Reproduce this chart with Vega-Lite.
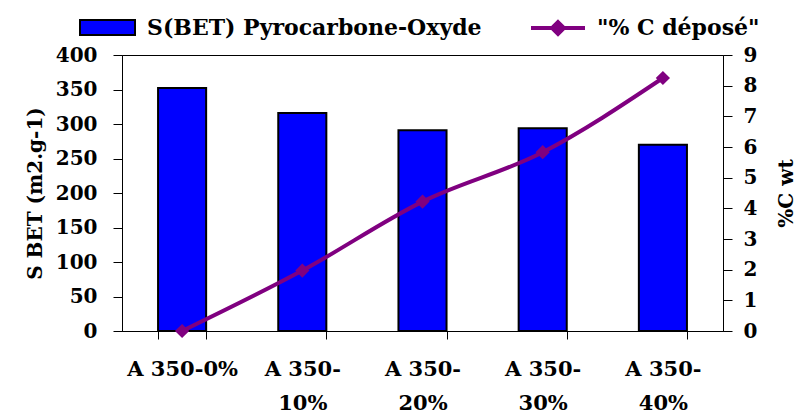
{
  "$schema": "https://vega.github.io/schema/vega-lite/v6.json",
  "width": 601,
  "height": 276,
  "autosize": {"type": "none"},
  "padding": {"left": 122, "top": 55, "right": 77, "bottom": 83},
  "background": "white",
  "config": {
    "view": {"stroke": "black", "strokeWidth": 1},
    "font": "DejaVu Serif",
    "axis": {
      "labelFont": "DejaVu Serif", "labelFontWeight": "bold", "labelFontSize": 20, "labelColor": "black",
      "titleFont": "DejaVu Serif", "titleFontWeight": "bold", "titleFontSize": 20, "titleColor": "black",
      "domainColor": "black", "tickColor": "black", "grid": false
    },
    "legend": {
      "labelFont": "DejaVu Serif", "labelFontWeight": "bold", "labelFontSize": 22, "labelColor": "black",
      "padding": 0, "title": null, "labelLimit": 500
    }
  },
  "data": {
    "values": [
      {"cat": "A 350-0%", "sbet": 352, "pc": 0},
      {"cat": "A 350-|10%", "sbet": 316, "pc": 1.97},
      {"cat": "A 350-|20%", "sbet": 291, "pc": 4.22},
      {"cat": "A 350-|30%", "sbet": 294, "pc": 5.83},
      {"cat": "A 350-|40%", "sbet": 270, "pc": 8.25}
    ]
  },
  "layer": [
    {
      "mark": {"type": "bar", "stroke": "black", "strokeWidth": 2},
      "encoding": {
        "x": {
          "field": "cat", "type": "nominal", "sort": null,
          "scale": {"paddingInner": 0.6, "paddingOuter": 0.3},
          "axis": {"title": null, "labelAngle": 0, "labelExpr": "split(datum.label, '|')", "labelFontSize": 21, "labelLineHeight": 34, "tickBand": "extent", "tickSize": 8, "labelPadding": 19, "labelBaseline": "top"}
        },
        "y": {
          "field": "sbet", "type": "quantitative",
          "scale": {"domain": [0, 400]},
          "axis": {"title": "S BET (m2.g-1)", "values": [0, 50, 100, 150, 200, 250, 300, 350, 400], "tickSize": 9, "labelPadding": 16, "titlePadding": 10}
        },
        "fill": {
          "datum": "S(BET) Pyrocarbone-Oxyde",
          "scale": {"range": ["#0000FF"]},
          "legend": {"orient": "none", "legendX": -43, "legendY": -56, "symbolType": "M-1,-0.2727H1V0.2727H-1Z", "symbolSize": 3025, "symbolStrokeColor": "black", "symbolStrokeWidth": 2, "labelOffset": 11}
        }
      }
    },
    {
      "mark": {"type": "line", "strokeWidth": 4, "interpolate": "monotone", "point": {"shape": "diamond", "size": 130, "filled": true, "color": "#800080"}},
      "encoding": {
        "x": {"field": "cat", "type": "nominal", "sort": null},
        "y": {
          "field": "pc", "type": "quantitative",
          "scale": {"domain": [0, 9]},
          "axis": {"orient": "right", "title": "%C wt", "titleAngle": -90, "values": [0, 1, 2, 3, 4, 5, 6, 7, 8, 9], "tickSize": 9, "labelPadding": 11, "titlePadding": 40}
        },
        "stroke": {
          "datum": "\"% C déposé\"",
          "scale": {"range": ["#800080"]},
          "legend": {"orient": "none", "legendX": 407, "legendY": -56, "symbolType": "M-1,0H1M0,-0.22L0.22,0L0,0.22L-0.22,0Z", "symbolSize": 2916, "symbolStrokeWidth": 4, "symbolFillColor": "#800080", "labelOffset": 10}
        }
      }
    }
  ],
  "resolve": {"scale": {"y": "independent", "fill": "independent", "stroke": "independent"}}
}
